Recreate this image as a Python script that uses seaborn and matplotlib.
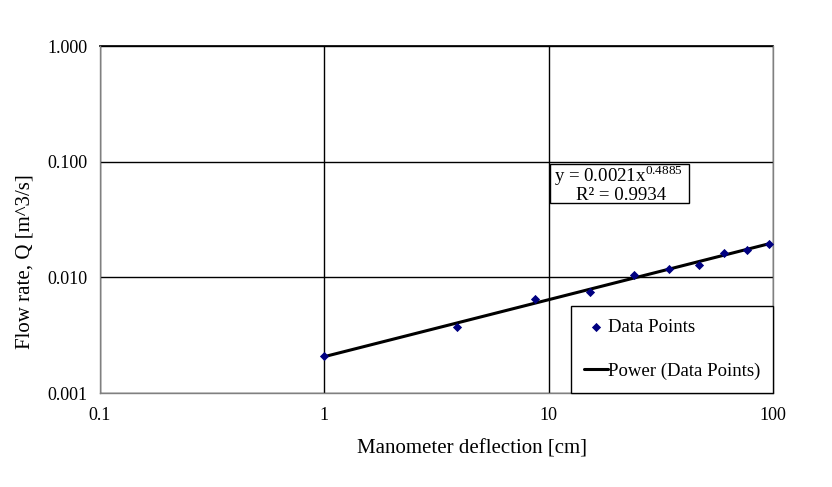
import numpy as np
import pandas as pd
import seaborn as sns
import matplotlib
matplotlib.use("Agg")
import matplotlib.pyplot as plt
from matplotlib.patches import Rectangle
from matplotlib.ticker import FixedLocator, FixedFormatter, NullLocator

# Data
deflection_cm = [1.0, 3.9, 8.65, 15.3, 23.9, 34.4, 46.8, 60.5, 76.9, 96.0]
flow_rate = [0.00210, 0.00372, 0.00645, 0.00752, 0.01055, 0.01189, 0.01288, 0.01612, 0.01735, 0.01929]
x_ticks = [0.1, 1, 10, 100]
x_tick_labels = ["0.1", "1", "10", "100"]
y_ticks = [0.001, 0.01, 0.1, 1.0]
y_tick_labels = ["0.001", "0.010", "0.100", "1.000"]

df = pd.DataFrame({"x": deflection_cm, "y": flow_rate})

sns.set_theme(style="white")
plt.rcParams['font.family'] = ['Liberation Serif', 'DejaVu Serif']
plt.rcParams['mathtext.fontset'] = 'custom'
plt.rcParams['mathtext.rm'] = 'Liberation Serif'
plt.rcParams['axes.labelcolor'] = 'black'
plt.rcParams['text.color'] = 'black'

fig = plt.figure(figsize=(8.32, 4.87), dpi=100)
ax = fig.add_axes([100/832, 1-393/487, 673/832, 347/487])

# trendline: power fit in log space
lx = np.log10(df["x"]); ly = np.log10(df["y"])
b, a = np.polyfit(lx, ly, 1)
xs = np.logspace(np.log10(min(deflection_cm)), np.log10(max(deflection_cm)), 100)
fit_df = pd.DataFrame({"x": xs, "y": 10**a * xs**b})

sns.scatterplot(data=df, x="x", y="y", ax=ax, marker="D", s=22, color="#000080",
                edgecolor="#000080", linewidth=0, label="Data Points", zorder=4)
sns.lineplot(data=fit_df, x="x", y="y", ax=ax, color="black", linewidth=2.2,
             label="Power (Data Points)", zorder=3)

ax.set_xscale("log"); ax.set_yscale("log")
ax.set_xlim(0.1, 100); ax.set_ylim(0.001, 1.0)
ax.xaxis.set_major_locator(FixedLocator(x_ticks))
ax.xaxis.set_major_formatter(FixedFormatter(x_tick_labels))
ax.yaxis.set_major_locator(FixedLocator(y_ticks))
ax.yaxis.set_major_formatter(FixedFormatter(y_tick_labels))
ax.xaxis.set_minor_locator(NullLocator()); ax.yaxis.set_minor_locator(NullLocator())

ax.set_axisbelow(True)
ax.grid(True, which="major", color="black", linewidth=1.0)
for s in ["left", "right", "bottom"]:
    ax.spines[s].set_color("#808080"); ax.spines[s].set_linewidth(1.0); ax.spines[s].set_zorder(2.6)
ax.spines["top"].set_color("black")

ax.tick_params(axis="both", labelsize=13, colors="black", length=0)
ax.tick_params(axis="y", pad=9)
ax.tick_params(axis="x", pad=10)
ax.set_xlabel("Manometer deflection [cm]", fontsize=15)
ax.set_ylabel("Flow rate, Q [m^3/s]", fontsize=15)
ax.xaxis.set_label_coords(0.553, -0.133)
ax.yaxis.set_label_coords(-0.097, 0.38)

leg = ax.legend(loc="lower right", bbox_to_anchor=(1.0, 0.0), fontsize=13.5, frameon=True,
                fancybox=False, edgecolor="black", borderaxespad=0, handlelength=1.25,
                labelspacing=1.4, borderpad=0.7, handletextpad=0.0, framealpha=1)
leg.get_frame().set_linewidth(1.0)

# trendline equation box
ax.add_patch(Rectangle((0.6686, 0.5476), 0.2065, 0.1124, transform=ax.transAxes,
                       facecolor="white", edgecolor="black", linewidth=1.0, zorder=5))
ax.text(0.771, 1 - (181.5 - 46) / 347, "y = 0.0021x$^{0.4885}$", transform=ax.transAxes,
        ha="center", va="baseline", fontsize=13.6, zorder=6)
ax.text(0.774, 1 - (200.5 - 46) / 347, "R² = 0.9934", transform=ax.transAxes,
        ha="center", va="baseline", fontsize=13.6, zorder=6)

fig.savefig("out.png", dpi=100)
